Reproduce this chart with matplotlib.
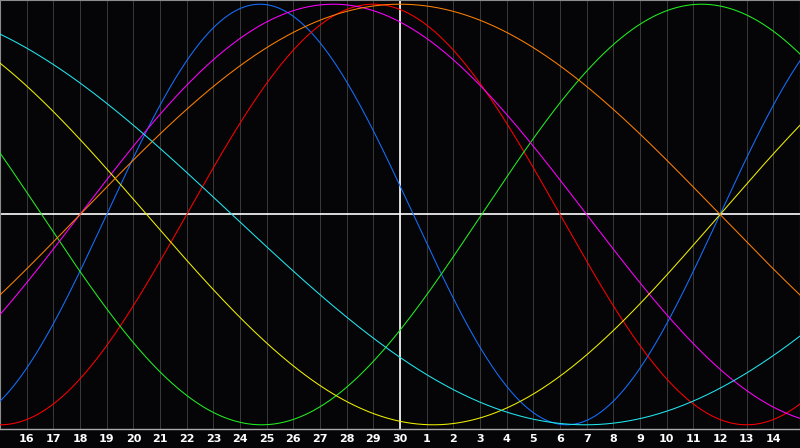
import numpy as np
import matplotlib.pyplot as plt

# biorhythm cycles: length in days and the day index (0 = left edge)
# where each cycle crosses zero going up
cycle_names = ['physical', 'emotional', 'intellectual', 'intuitive',
               'aesthetic', 'awareness', 'spiritual']
cycle_days = [23, 28, 33, 38, 43, 48, 53]
cycle_start = [4.0, 7.0, 18.06, 3.0, 27.0, 3.0, 35.2]
cycle_colors = ['#1470ff', '#ff0000', '#20f020', '#ff00ff',
                '#f0f000', '#ff8000', '#20e8f0']

day_labels = list(range(16, 31)) + list(range(1, 15))
today_index = 15
n_days = 30

bg = '#050508'

fig = plt.figure(figsize=(8, 4.48), dpi=100, facecolor=bg)
ax = fig.add_axes([0, 19 / 448, 1, 429 / 448], facecolor=bg)

# day grid
for i in range(1, n_days):
    ax.axvline(i, color='#383838', lw=0.72, antialiased=False, zorder=1)

ax.axhline(0, color='white', lw=1.2, zorder=2)
ax.axvline(today_index, color='white', lw=1.2, zorder=2)

t = np.linspace(0, n_days, 1200)
for name, period, start, col in zip(cycle_names, cycle_days, cycle_start, cycle_colors):
    y = np.sin(2 * np.pi * (t - start) / period)
    ax.plot(t, y, color=col, lw=0.75, zorder=3, label=name)

for i, lab in enumerate(day_labels, start=1):
    ax.text(i, -0.0235, str(lab), transform=ax.get_xaxis_transform(),
            ha='center', va='center', color='white', fontsize=8,
            fontweight='bold', clip_on=False)

ax.set_xlim(0, n_days)
ax.set_ylim(-1.02, 1.02)
ax.set_xticks([])
ax.set_yticks([])
for side in ['top', 'left', 'right']:
    ax.spines[side].set_color('#8c8c8c')
    ax.spines[side].set_linewidth(0.8)
ax.spines['bottom'].set_color('#a8a8a8')
ax.spines['bottom'].set_linewidth(1.0)

fig.savefig('out.png', dpi=100, facecolor=bg)
